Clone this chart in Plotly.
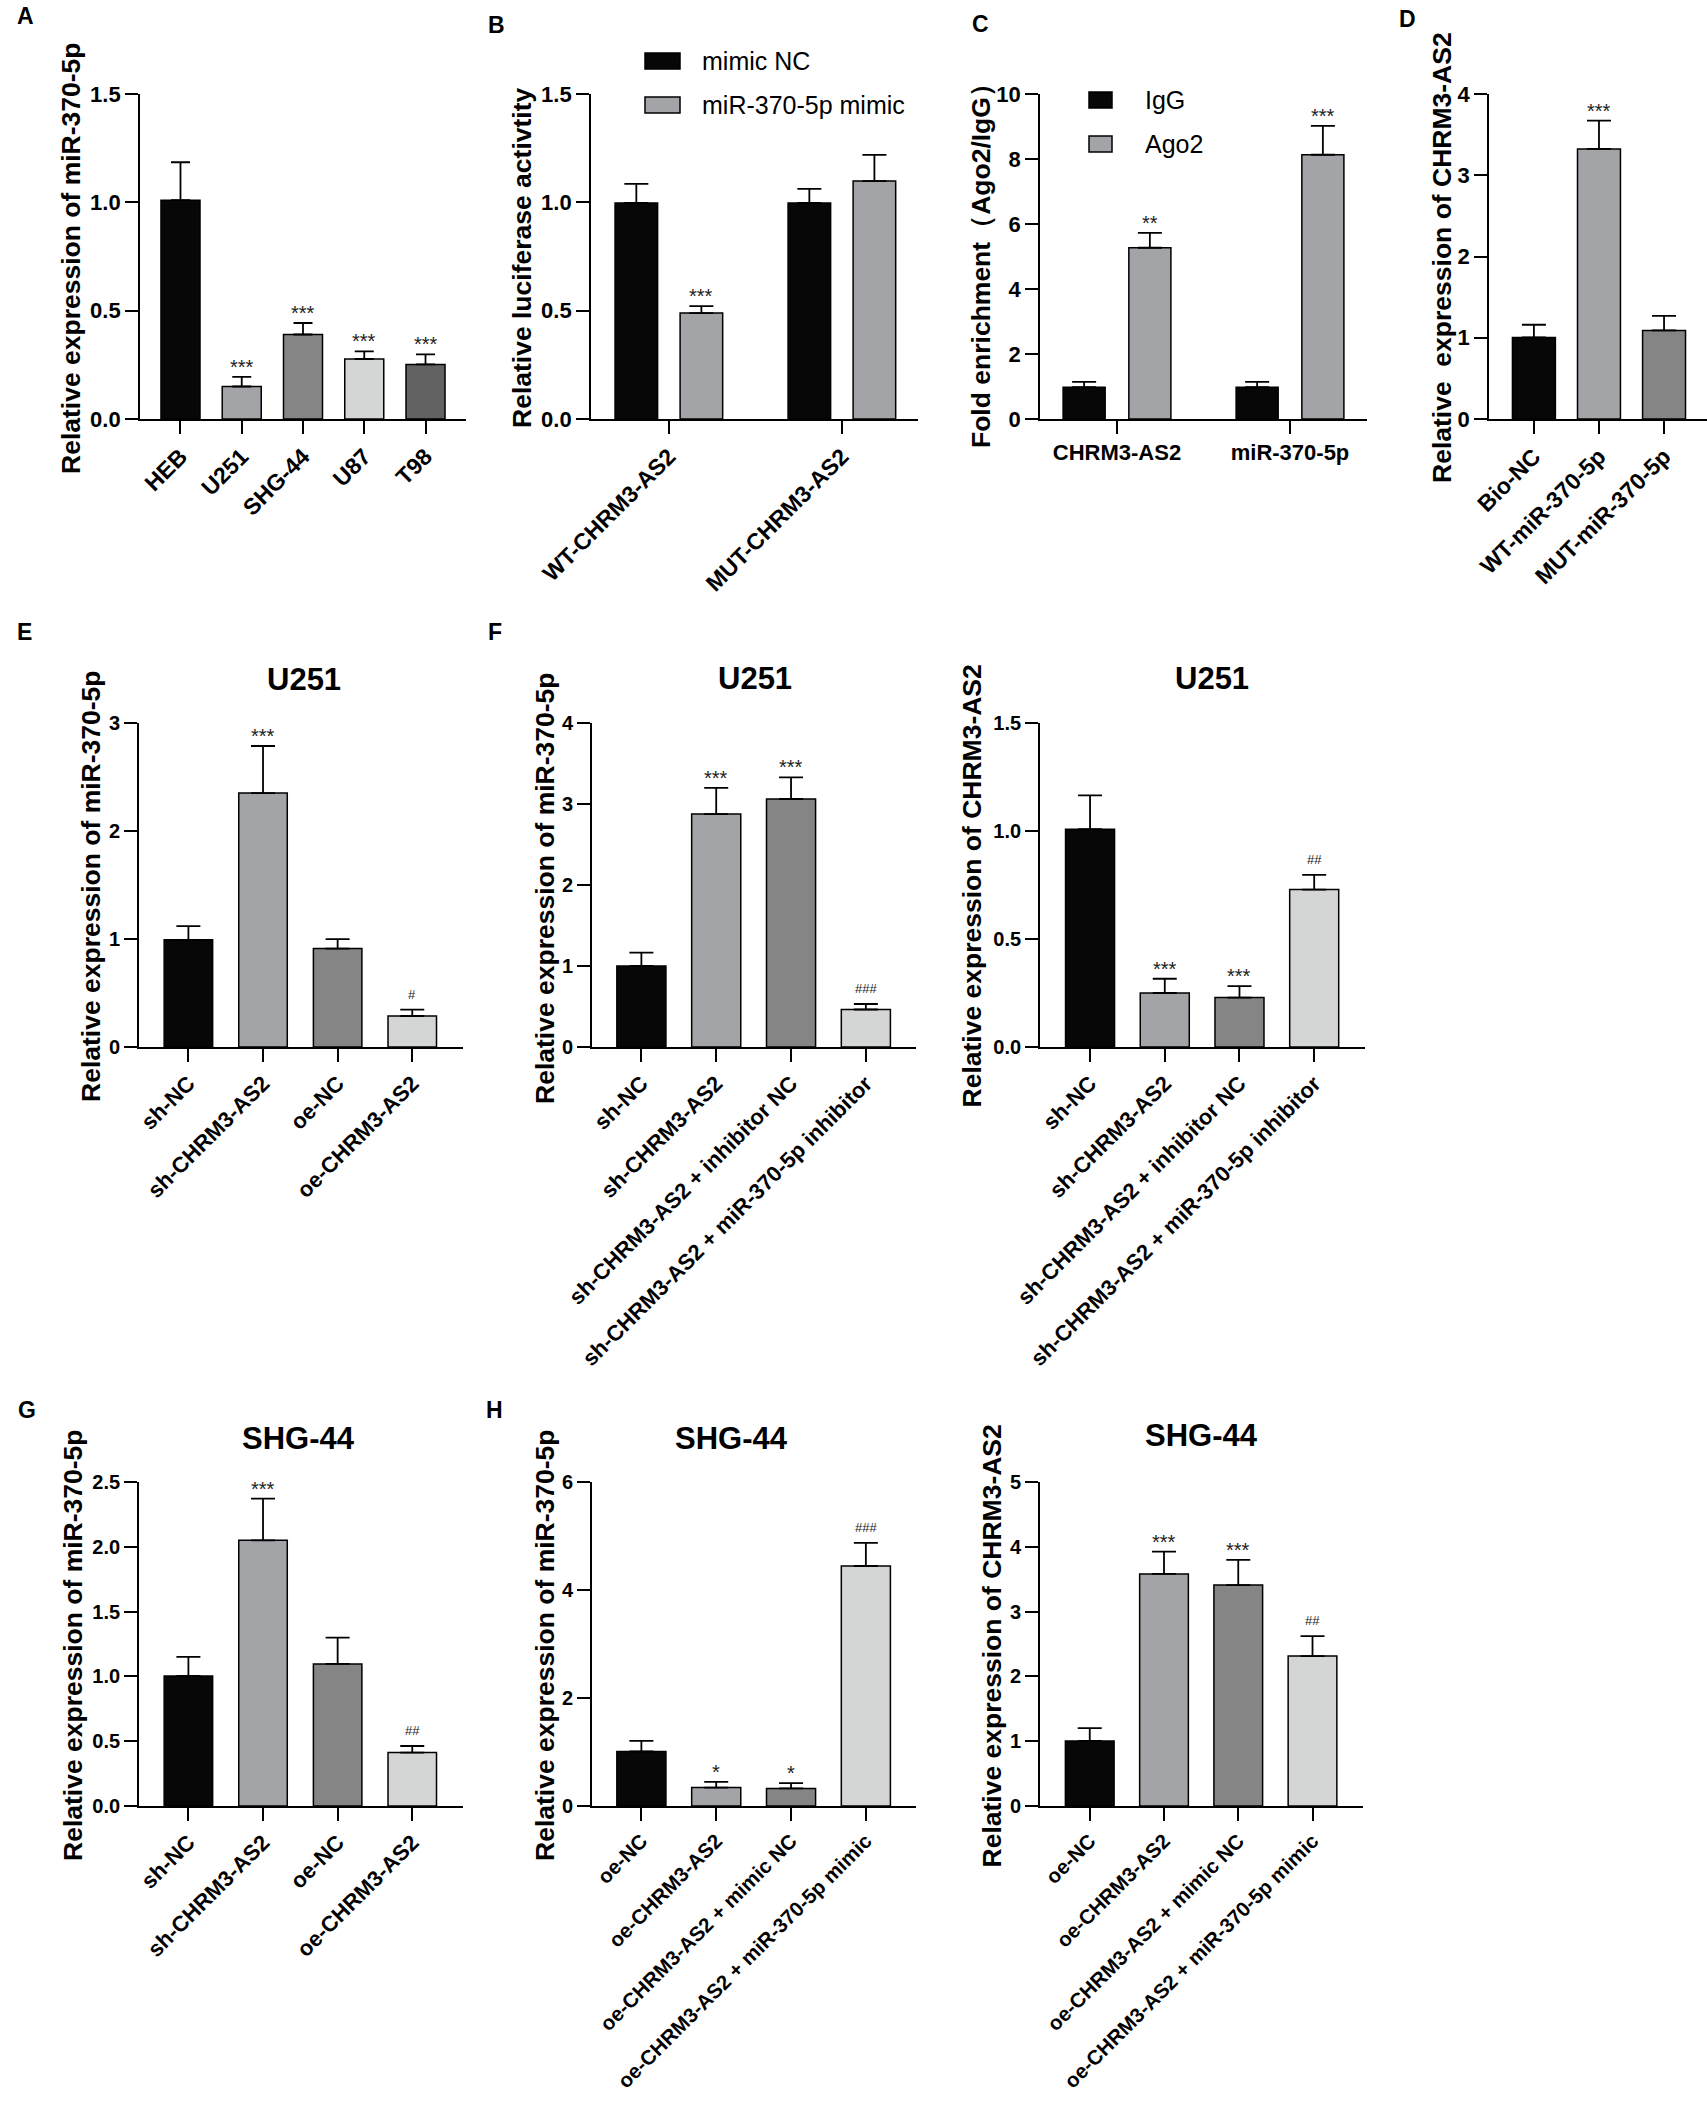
import plotly.graph_objects as go

W, H = 1707, 2108
FONT = "Liberation Sans, Arial, sans-serif"

# ---------------- data ----------------
A_cats = ["HEB", "U251", "SHG-44", "U87", "T98"]
A_vals = [1.01, 0.15, 0.39, 0.277, 0.252]
A_errs = [0.175, 0.044, 0.053, 0.035, 0.046]
A_sig = ["", "***", "***", "***", "***"]

B_cats = ["WT-CHRM3-AS2", "MUT-CHRM3-AS2"]
B_series = ["mimic NC", "miR-370-5p mimic"]
B_nc_vals = [0.997, 0.997]
B_nc_errs = [0.088, 0.065]
B_nc_sig = ["", ""]
B_mim_vals = [0.489, 1.098]
B_mim_errs = [0.032, 0.121]
B_mim_sig = ["***", ""]

C_cats = ["CHRM3-AS2", "miR-370-5p"]
C_series = ["IgG", "Ago2"]
C_igg_vals = [0.98, 0.98]
C_igg_errs = [0.16, 0.16]
C_igg_sig = ["", ""]
C_ago_vals = [5.27, 8.13]
C_ago_errs = [0.46, 0.89]
C_ago_sig = ["**", "***"]

D_cats = ["Bio-NC", "WT-miR-370-5p", "MUT-miR-370-5p"]
D_vals = [1.004, 3.324, 1.09]
D_errs = [0.156, 0.348, 0.18]
D_sig = ["", "***", ""]

E_cats = ["sh-NC", "sh-CHRM3-AS2", "oe-NC", "oe-CHRM3-AS2"]
E_vals = [0.992, 2.351, 0.911, 0.287]
E_errs = [0.127, 0.436, 0.087, 0.059]
E_sig = ["", "***", "", "#"]

F_cats = ["sh-NC", "sh-CHRM3-AS2", "sh-CHRM3-AS2 + inhibitor NC",
          "sh-CHRM3-AS2 + miR-370-5p inhibitor"]
F1_vals = [1.0, 2.876, 3.062, 0.463]
F1_errs = [0.164, 0.322, 0.266, 0.068]
F1_sig = ["", "***", "***", "###"]
F2_vals = [1.008, 0.25, 0.229, 0.729]
F2_errs = [0.157, 0.066, 0.053, 0.068]
F2_sig = ["", "***", "***", "##"]

G_cats = ["sh-NC", "sh-CHRM3-AS2", "oe-NC", "oe-CHRM3-AS2"]
G_vals = [1.003, 2.05, 1.096, 0.412]
G_errs = [0.147, 0.321, 0.203, 0.051]
G_sig = ["", "***", "", "##"]

H_cats = ["oe-NC", "oe-CHRM3-AS2", "oe-CHRM3-AS2 + mimic NC",
          "oe-CHRM3-AS2 + miR-370-5p mimic"]
H1_vals = [1.009, 0.342, 0.325, 4.444]
H1_errs = [0.197, 0.103, 0.10, 0.427]
H1_sig = ["", "*", "*", "###"]
H2_vals = [1.003, 3.582, 3.41, 2.314]
H2_errs = [0.2, 0.344, 0.387, 0.308]
H2_sig = ["", "***", "***", "##"]

Y_MIR = "Relative expression of miR-370-5p"
Y_CHRM = "Relative expression of CHRM3-AS2"
Y_LUC = "Relative luciferase activtity"
Y_FOLD = "Fold enrichment（Ago2/IgG）"
Y_D = "Relative\u00a0 expression of CHRM3-AS2"

# ---------------- styles ----------------
BLACK = "#070707"
GL = "#a3a4a8"
GM = "#858585"
GXL = "#d4d6d5"
GD = "#626262"
COL5 = [BLACK, GL, GM, GXL, GD]
COL4 = [BLACK, GL, GM, GXL]

fig = go.Figure()
annotations = []
shapes = []


def nm(n):
    return "" if n == 1 else str(n)


def setup_axes(n, box, xrange, ymax, dtick, fmt, xangle, xfs, yfs):
    x0, x1, yt, yb = box
    xa = dict(domain=[x0 / W, min(x1 / W, 1.0)], anchor="y" + nm(n), type="category",
              range=xrange, showline=True, linecolor="black", linewidth=1.8,
              ticks="outside", ticklen=13, tickwidth=1.8, tickcolor="black",
              tickangle=xangle, automargin=False,
              tickfont=dict(family=FONT, size=xfs, color="black", weight="bold"),
              showgrid=False, zeroline=False, fixedrange=True)
    ya = dict(domain=[1 - yb / H, 1 - yt / H], anchor="x" + nm(n), range=[0, ymax],
              tickmode="linear", tick0=0, dtick=dtick, tickformat=fmt,
              showline=True, linecolor="black", linewidth=1.8,
              ticks="outside", ticklen=13, tickwidth=1.8, tickcolor="black",
              automargin=False,
              tickfont=dict(family=FONT, size=yfs, color="black", weight="bold"),
              showgrid=False, zeroline=False, fixedrange=True)
    fig.update_layout(**{"xaxis" + nm(n): xa, "yaxis" + nm(n): ya})


def add_bars(n, cats, vals, errs, colors, width, offset=None, cap=12, name=None):
    fig.add_trace(go.Bar(
        x=cats, y=vals, xaxis="x" + nm(n), yaxis="y" + nm(n),
        width=width, offset=offset, name=name, showlegend=False,
        marker=dict(color=colors, line=dict(color="black", width=1.5)),
        error_y=dict(type="data", symmetric=False, array=errs,
                     arrayminus=[0] * len(vals), color="black",
                     thickness=1.8, width=cap),
    ))


def add_sig(n, vals, errs, sigs, center_shift=0.0):
    for i, s in enumerate(sigs):
        if not s:
            continue
        is_hash = "#" in s
        annotations.append(dict(
            x=i + center_shift, y=vals[i] + errs[i], xref="x" + nm(n), yref="y" + nm(n),
            text=s, showarrow=False, xanchor="center", yanchor="bottom",
            yshift=6 if is_hash else -3,
            font=dict(family=FONT, size=13 if is_hash else 20, color="#222222")))


def ytitle(text, x, y):
    annotations.append(dict(x=x / W, y=1 - y / H, xref="paper", yref="paper", text=text,
                            textangle=-90, showarrow=False, xanchor="center", yanchor="middle",
                            font=dict(family=FONT, size=26.5, color="black", weight="bold")))


def ptitle(text, x, y):
    annotations.append(dict(x=x / W, y=1 - y / H, xref="paper", yref="paper", text=text,
                            showarrow=False, xanchor="center", yanchor="middle",
                            font=dict(family=FONT, size=31, color="black", weight="bold")))


def letter(text, x, y):
    annotations.append(dict(x=x / W, y=1 - y / H, xref="paper", yref="paper", text=text,
                            showarrow=False, xanchor="center", yanchor="middle",
                            font=dict(family=FONT, size=23, color="black", weight="bold")))


def legend_item(text, x0, x1, yt, yb, color, tx):
    shapes.append(dict(type="rect", xref="paper", yref="paper",
                       x0=x0 / W, x1=x1 / W, y0=1 - yb / H, y1=1 - yt / H,
                       fillcolor=color, line=dict(color="black", width=1.5)))
    annotations.append(dict(x=tx / W, y=1 - (yt + yb) / 2 / H, xref="paper", yref="paper",
                            text=text, showarrow=False, xanchor="left", yanchor="middle",
                            font=dict(family=FONT, size=25, color="black")))


# ---------------- panel A ----------------
setup_axes(1, (140, 466, 94, 419), [-0.661, 4.661], 1.5, 0.5, ".1f", -45, 23, 22)
add_bars(1, A_cats, A_vals, A_errs, COL5, 0.637, cap=9.5)
add_sig(1, A_vals, A_errs, A_sig)
ytitle(Y_MIR, 71, 258)
letter("A", 25, 16)

# ---------------- panel B ----------------
bw, bc = 0.246, 0.188
setup_axes(2, (591, 918, 94, 419), [-0.45, 1.44], 1.5, 0.5, ".1f", -45, 23, 22)
add_bars(2, B_cats, B_nc_vals, B_nc_errs, BLACK, bw, offset=-bc - bw / 2, name=B_series[0])
add_bars(2, B_cats, B_mim_vals, B_mim_errs, GL, bw, offset=bc - bw / 2, name=B_series[1])
add_sig(2, B_nc_vals, B_nc_errs, B_nc_sig, -bc)
add_sig(2, B_mim_vals, B_mim_errs, B_mim_sig, bc)
ytitle(Y_LUC, 522, 258)
letter("B", 496, 25)
legend_item(B_series[0], 645, 680, 53, 69, BLACK, 700)
legend_item(B_series[1], 645, 680, 97, 113, GL, 700)

# ---------------- panel C ----------------
cw, cc = 0.243, 0.19
setup_axes(3, (1040, 1367, 94, 419), [-0.445, 1.445], 10, 2, "d", 0, 22, 22)
add_bars(3, C_cats, C_igg_vals, C_igg_errs, BLACK, cw, offset=-cc - cw / 2, name=C_series[0])
add_bars(3, C_cats, C_ago_vals, C_ago_errs, GL, cw, offset=cc - cw / 2, name=C_series[1])
add_sig(3, C_igg_vals, C_igg_errs, C_igg_sig, -cc)
add_sig(3, C_ago_vals, C_ago_errs, C_ago_sig, cc)
ytitle(Y_FOLD, 981, 259)
letter("C", 981, 24)
legend_item(C_series[0], 1089, 1112, 92, 108, BLACK, 1143)
legend_item(C_series[1], 1089, 1112, 136, 152, GL, 1143)

# ---------------- panel D ----------------
setup_axes(4, (1489, 1707, 94, 419), [-0.69, 2.66], 4, 1, "d", -45, 23, 22)
add_bars(4, D_cats, D_vals, D_errs, COL5[:3], 0.66)
add_sig(4, D_vals, D_errs, D_sig)
ytitle(Y_D, 1442, 258)
letter("D", 1407, 19)

# ---------------- row 2: E / F ----------------
setup_axes(5, (139, 463, 723, 1047), [-0.662, 3.68], 3, 1, "d", -45, 22, 20)
add_bars(5, E_cats, E_vals, E_errs, COL4, 0.65)
add_sig(5, E_vals, E_errs, E_sig)
ytitle(Y_MIR, 91, 886)
ptitle("U251", 303.5, 680)
letter("E", 24, 632)

setup_axes(6, (592, 916, 723, 1047), [-0.66, 3.67], 4, 1, "d", -45, 22, 20)
add_bars(6, F_cats, F1_vals, F1_errs, COL4, 0.656)
add_sig(6, F1_vals, F1_errs, F1_sig)
ytitle(Y_MIR, 545, 888)
ptitle("U251", 755, 679)
letter("F", 495, 632)

setup_axes(7, (1040, 1365, 723, 1047), [-0.67, 3.68], 1.5, 0.5, ".1f", -45, 22, 20)
add_bars(7, F_cats, F2_vals, F2_errs, COL4, 0.656)
add_sig(7, F2_vals, F2_errs, F2_sig)
ytitle(Y_CHRM, 971.5, 886)
ptitle("U251", 1212, 679)

# ---------------- row 3: G / H ----------------
setup_axes(8, (139, 463, 1482, 1806), [-0.662, 3.68], 2.5, 0.5, ".1f", -45, 22, 20)
add_bars(8, G_cats, G_vals, G_errs, COL4, 0.65)
add_sig(8, G_vals, G_errs, G_sig)
ytitle(Y_MIR, 73, 1645)
ptitle("SHG-44", 298.5, 1438)
letter("G", 27, 1410)

setup_axes(9, (592, 916, 1482, 1806), [-0.66, 3.67], 6, 2, "d", -45, 20.5, 20)
add_bars(9, H_cats, H1_vals, H1_errs, COL4, 0.656)
add_sig(9, H1_vals, H1_errs, H1_sig)
ytitle(Y_MIR, 545, 1645)
ptitle("SHG-44", 731.5, 1438)
letter("H", 494, 1410)

setup_axes(10, (1040, 1363, 1482, 1806), [-0.67, 3.68], 5, 1, "d", -45, 20.5, 20)
add_bars(10, H_cats, H2_vals, H2_errs, COL4, 0.656)
add_sig(10, H2_vals, H2_errs, H2_sig)
ytitle(Y_CHRM, 991.5, 1646)
ptitle("SHG-44", 1201, 1435)

fig.update_layout(
    width=W, height=H, margin=dict(l=0, r=0, t=0, b=0, autoexpand=False),
    paper_bgcolor="white", plot_bgcolor="white",
    barmode="overlay", showlegend=False,
    font=dict(family=FONT, color="black"),
    annotations=annotations, shapes=shapes,
)

fig.write_html("out.html", config={"displayModeBar": False},
               post_script="document.body.style.margin='0';document.body.style.overflow='hidden';")
